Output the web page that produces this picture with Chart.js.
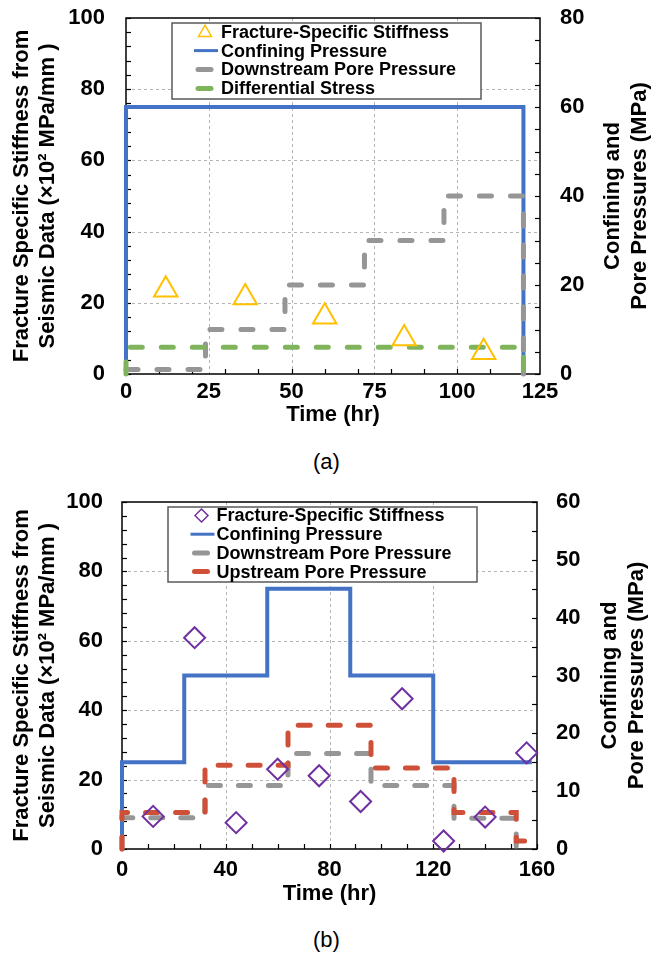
<!DOCTYPE html>
<html>
<head>
<meta charset="utf-8">
<script src="https://cdn.jsdelivr.net/npm/chart.js@4.4.1/dist/chart.umd.min.js"></script>
<style>
body { margin: 0; background: #fff; width: 653px; height: 962px; position: relative; overflow: hidden; font-family: "Liberation Sans", Arial, sans-serif; }
.box { position: absolute; left: 0; width: 653px; height: 440px; }
.cap { position: absolute; left: 0; width: 653px; text-align: center; font-size: 22px; line-height: 26px; }
</style>
</head>
<body>
<div class="box" style="top:0"><canvas id="chartA" width="653" height="440"></canvas></div>
<div class="cap" style="top:449px">(a)</div>
<div class="box" style="top:480px"><canvas id="chartB" width="653" height="440"></canvas></div>
<div class="cap" style="top:927px">(b)</div>
<script>
// --- chart (a) ---
const stiffTimeA = [12, 36, 60, 84, 108];
const stiffA = [23.7, 21.5, 16.1, 10.0, 6.1];
const confTimeA = [0, 0, 120, 120];
const confA = [0, 60, 60, 0];
const downTimeA = [0, 24, 48, 72, 96, 120, 120];
const downA = [1, 10, 20, 30, 40, 40, 0];
const diffTimeA = [0, 0, 120, 120];
const diffA = [0, 6, 6, 0];

// --- chart (b) ---
const stiffTimeB = [12, 28, 44, 60, 76, 92, 108, 124, 140, 156];
const stiffB = [9.4, 60.9, 7.6, 23, 21.1, 13.7, 43.3, 2.3, 9.2, 27.7];
const confTimeB = [0, 0, 24, 56, 88, 120, 158];
const confB = [0, 15, 30, 45, 30, 15, 15];
const downTimeB = [0, 0, 32, 64, 96, 128, 152, 158];
const downB = [0, 5.4, 11, 16.5, 11, 5.3, 0.5, 0.5];
const upTimeB = [0, 0, 32, 64, 96, 128, 152, 158];
const upB = [0, 6.3, 14.5, 21.4, 14, 6.3, 1.4, 1.4];

const timeTitle = "Time (hr)";
const leftTitle = ["Fracture Specific Stiffness from", "Seismic Data (×10² MPa/mm )"];
const rightTitle = ["Confining and", "Pore Pressures (MPa)"];

const FONT = '"Liberation Sans", Arial, sans-serif';
const pts = (xs, ys) => xs.map((x, i) => ({ x: x, y: ys[i] }));

// gridlines, frame and inside tick marks
const framePlugin = {
    id: "frame",
    beforeDatasetsDraw(chart, args, o) {
        const ctx = chart.ctx, a = chart.chartArea;
        const sx = chart.scales.x, sy = chart.scales.y, sy2 = chart.scales.y2;
        ctx.save();
        ctx.strokeStyle = "#b4b4b4";
        ctx.lineWidth = 1;
        ctx.setLineDash([3, 3]);
        sx.ticks.forEach(t => {
            if (t.value <= sx.min || t.value >= sx.max) return;
            const p = Math.round(sx.getPixelForValue(t.value)) + 0.5;
            ctx.beginPath(); ctx.moveTo(p, a.top); ctx.lineTo(p, a.bottom); ctx.stroke();
        });
        sy.ticks.forEach(t => {
            if (t.value <= sy.min || t.value >= sy.max) return;
            const p = Math.round(sy.getPixelForValue(t.value)) + 0.5;
            ctx.beginPath(); ctx.moveTo(a.left, p); ctx.lineTo(a.right, p); ctx.stroke();
        });
        ctx.setLineDash([]);
        ctx.strokeStyle = "#000";
        ctx.lineWidth = 1.2;
        const L = 5;
        for (let v = sx.min; v <= sx.max; v += o.xMinor) {
            const p = Math.round(sx.getPixelForValue(v)) + 0.5;
            ctx.beginPath(); ctx.moveTo(p, a.bottom); ctx.lineTo(p, a.bottom - L); ctx.stroke();
        }
        for (let v = sy.min; v <= sy.max; v += o.yMinor) {
            const p = Math.round(sy.getPixelForValue(v)) + 0.5;
            ctx.beginPath(); ctx.moveTo(a.left, p); ctx.lineTo(a.left + L, p); ctx.stroke();
        }
        for (let v = sy2.min; v <= sy2.max; v += o.y2Minor) {
            const p = Math.round(sy2.getPixelForValue(v)) + 0.5;
            ctx.beginPath(); ctx.moveTo(a.right, p); ctx.lineTo(a.right - L, p); ctx.stroke();
        }
        ctx.lineWidth = 1.5;
        ctx.strokeRect(a.left, a.top, a.right - a.left, a.bottom - a.top);
        ctx.restore();
    }
};

// axis titles (right one reads bottom to top like the left one)
const titlePlugin = {
    id: "titles",
    afterDraw(chart, args, o) {
        const ctx = chart.ctx, a = chart.chartArea;
        ctx.save();
        ctx.font = "bold 22px " + FONT;
        ctx.fillStyle = "#000";
        ctx.textAlign = "center";
        ctx.textBaseline = "middle";
        ctx.fillText(timeTitle, (a.left + a.right) / 2, a.bottom + o.xOff);
        const cy = (a.top + a.bottom) / 2;
        const draw = (lines, xs) => lines.forEach((t, i) => {
            ctx.save();
            ctx.translate(xs[i], cy);
            ctx.rotate(-Math.PI / 2);
            ctx.fillText(t, 0, 0);
            ctx.restore();
        });
        draw(leftTitle, o.leftX);
        draw(rightTitle, o.rightX);
        ctx.restore();
    }
};

// boxed legend inside the plot
const legendPlugin = {
    id: "boxLegend",
    afterDraw(chart, args, o) {
        const ctx = chart.ctx;
        ctx.save();
        ctx.fillStyle = "#fff";
        ctx.fillRect(o.x, o.y, o.w, o.h);
        ctx.strokeStyle = "#595959";
        ctx.lineWidth = 1.5;
        ctx.strokeRect(o.x, o.y, o.w, o.h);
        ctx.font = "bold 18px " + FONT;
        ctx.textBaseline = "middle";
        chart.data.datasets.forEach((ds, i) => {
            const cy = o.y + o.first + i * o.row;
            const mx = o.x + o.mark;
            if (ds.showLine === false) {
                ctx.strokeStyle = ds.pointBorderColor;
                ctx.fillStyle = "rgba(0,0,0,0)";
                Chart.helpers.drawPoint(ctx, {
                    pointStyle: ds.pointStyle, rotation: 0,
                    radius: ds.legendRadius, borderWidth: ds.pointBorderWidth
                }, mx, cy + ds.legendShift);
            } else if (ds.borderDash) {
                ctx.strokeStyle = ds.borderColor;
                ctx.lineWidth = 5;
                ctx.lineCap = "round";
                ctx.beginPath(); ctx.moveTo(mx - 7, cy); ctx.lineTo(mx + 6, cy); ctx.stroke();
            } else {
                ctx.strokeStyle = ds.borderColor;
                ctx.lineWidth = 3;
                ctx.lineCap = "butt";
                ctx.beginPath(); ctx.moveTo(mx - 11, cy); ctx.lineTo(mx + 13, cy); ctx.stroke();
            }
            ctx.fillStyle = "#000";
            ctx.textAlign = "left";
            ctx.fillText(ds.label, o.x + o.text, cy + 1);
        });
        ctx.restore();
    }
};

function tickFont() {
    return { family: FONT, size: 22, weight: "bold" };
}

// tick label offset goes through tickLength (grid hidden) so it does not widen the top padding
function makeChart(id, datasets, s, plug) {
    return new Chart(document.getElementById(id), {
        type: "scatter",
        data: { datasets: datasets },
        plugins: [framePlugin, titlePlugin, legendPlugin],
        options: {
            responsive: false,
            animation: false,
            layout: { padding: { top: s.top, left: 0, right: 0, bottom: 0 } },
            scales: {
                x: {
                    type: "linear", min: 0, max: s.xMax,
                    ticks: { stepSize: s.xStep, color: "#000", font: tickFont(), padding: 0, maxRotation: 0 },
                    grid: { display: false, drawTicks: true, tickLength: s.xPad }, border: { display: false },
                    afterFit: sc => { sc.height = s.xH; }
                },
                y: {
                    position: "left", min: 0, max: 100,
                    ticks: { stepSize: 20, color: "#000", font: tickFont(), padding: 0 },
                    grid: { display: false, drawTicks: true, tickLength: s.yPad }, border: { display: false },
                    afterFit: sc => { sc.width = s.left; }
                },
                y2: {
                    position: "right", min: 0, max: s.y2Max,
                    ticks: { stepSize: s.y2Step, color: "#000", font: tickFont(), padding: 0 },
                    grid: { display: false, drawTicks: true, tickLength: s.y2Pad }, border: { display: false },
                    afterFit: sc => { sc.width = 653 - s.right; }
                }
            },
            plugins: {
                legend: { display: false },
                tooltip: { enabled: false },
                frame: plug.frame,
                titles: plug.titles,
                boxLegend: plug.legend
            }
        }
    });
}

function lineSet(label, xs, ys, color, width, dash, order, stepped) {
    return {
        label: label, data: pts(xs, ys), yAxisID: "y2", showLine: true,
        borderColor: color, borderWidth: width, borderDash: dash,
        borderCapStyle: dash ? "round" : "butt", borderJoinStyle: "miter",
        stepped: stepped || false, pointRadius: 0, order: order, clip: false
    };
}

makeChart("chartA", [
    {
        label: "Fracture-Specific Stiffness", data: pts(stiffTimeA, stiffA), yAxisID: "y",
        showLine: false, pointStyle: "triangle", pointRadius: 13.5, legendRadius: 7.5, legendShift: 1,
        pointBorderColor: "#FFC000", pointBackgroundColor: "rgba(0,0,0,0)", pointBorderWidth: 2,
        order: 0, clip: false
    },
    lineSet("Confining Pressure", confTimeA, confA, "#4472C4", 4, undefined, 3),
    lineSet("Downstream Pore Pressure", downTimeA, downA, "#969696", 5, [12, 19], 2, true),
    lineSet("Differential Stress", diffTimeA, diffA, "#80B45C", 5, [12, 19], 1)
], { top: 18, xMax: 125, xStep: 25, xH: 66, xPad: 5, left: 126, right: 540, y2Max: 80, y2Step: 20, yPad: 21, y2Pad: 20 }, {
    frame: { xMinor: 10, yMinor: 4, y2Minor: 5 },
    titles: { xOff: 41, leftX: [22, 48], rightX: [613, 640] },
    legend: { x: 172, y: 23, w: 309, h: 76, first: 8.7, row: 18.9, mark: 33, text: 49 }
});

makeChart("chartB", [
    {
        label: "Fracture-Specific Stiffness", data: pts(stiffTimeB, stiffB), yAxisID: "y",
        showLine: false, pointStyle: "rectRot", pointRadius: 10.5, legendRadius: 6.5, legendShift: 0,
        pointBorderColor: "#7030A0", pointBackgroundColor: "rgba(0,0,0,0)", pointBorderWidth: 2,
        order: 0, clip: false
    },
    lineSet("Confining Pressure", confTimeB, confB, "#4472C4", 4, undefined, 3, true),
    lineSet("Downstream Pore Pressure", downTimeB, downB, "#969696", 5, [12, 18], 2, true),
    lineSet("Upstream Pore Pressure", upTimeB, upB, "#CF5038", 5, [12, 18], 1, true)
], { top: 22, xMax: 160, xStep: 40, xH: 71, xPad: 8, left: 122, right: 537, y2Max: 60, y2Step: 10, yPad: 19, y2Pad: 19 }, {
    frame: { xMinor: 10, yMinor: 4, y2Minor: 5 },
    titles: { xOff: 45, leftX: [22, 48], rightX: [610, 637] },
    legend: { x: 168, y: 27, w: 309, h: 75, first: 8.5, row: 18.7, mark: 33.5, text: 48.5 }
});
</script>
</body>
</html>
